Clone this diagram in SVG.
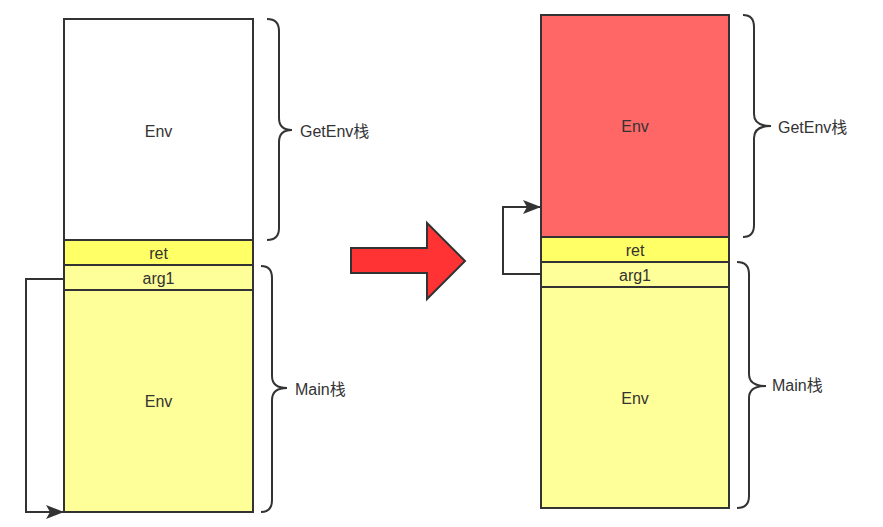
<svg xmlns="http://www.w3.org/2000/svg" width="883" height="527" viewBox="0 0 883 527">
<defs>
<style>
.box{stroke:#333333;stroke-width:2}
.white{fill:#FFFFFF}
.red{fill:#FF6666}
.ret{fill:#FFFF66}
.yel{fill:#FFFF99}
.brace{fill:none;stroke:#333333;stroke-width:2}
.conn{fill:none;stroke:#333333;stroke-width:2}
text{font-family:"Liberation Sans","Noto Sans CJK SC",sans-serif;font-size:16px;fill:#333333}
.c{text-anchor:middle;dominant-baseline:central}
.l{dominant-baseline:central}
</style>
<marker id="arr" viewBox="0 0 18 14" refX="17" refY="7" markerWidth="18" markerHeight="14" markerUnits="userSpaceOnUse" orient="auto">
<path d="M0,0 L18,7 L0,14 L4,7 Z" fill="#333333"/>
</marker>
</defs>
<rect width="883" height="527" fill="#FFFFFF"/>

<g id="left-env-top"><rect class="box white" x="64" y="19" width="189" height="221"/><text class="c" x="158.5" y="131">Env</text></g>
<g id="left-ret"><rect class="box ret" x="64" y="240" width="189" height="25"/><text class="c" x="158.5" y="253">ret</text></g>
<g id="left-arg1"><rect class="box yel" x="64" y="265" width="189" height="25"/><text class="c" x="158.5" y="278">arg1</text></g>
<g id="left-env-main"><rect class="box yel" x="64" y="290" width="189" height="222"/><text class="c" x="158.5" y="401">Env</text></g>

<g id="left-brace-getenv"><path class="brace" d="M267,19 Q279,19 279,31 L279,118 Q279,130 292,130 Q279,130 279,142 L279,228 Q279,240 267,240"/><text class="l" x="300" y="131">GetEnv栈</text></g>
<g id="left-brace-main"><path class="brace" d="M261,266 Q272,266 272,278 L272,376 Q272,388 287,388 Q272,388 272,400 L272,500 Q272,512 261,512"/><text class="l" x="295" y="389">Main栈</text></g>

<g id="big-arrow"><path d="M351,248 L427,248 L427,223 L465,261 L427,299 L427,273 L351,273 Z" fill="#FF3333" stroke="#333333" stroke-width="2" stroke-linejoin="miter"/></g>

<g id="right-env-top"><rect class="box red" x="541" y="15" width="188" height="222"/><text class="c" x="635" y="126">Env</text></g>
<g id="right-ret"><rect class="box ret" x="541" y="237" width="188" height="25"/><text class="c" x="635" y="250">ret</text></g>
<g id="right-arg1"><rect class="box yel" x="541" y="262" width="188" height="25"/><text class="c" x="635" y="275">arg1</text></g>
<g id="right-env-main"><rect class="box yel" x="541" y="287" width="188" height="221"/><text class="c" x="635" y="398">Env</text></g>

<g id="right-brace-getenv"><path class="brace" d="M743,15 Q754,15 754,27 L754,114 Q754,126 771,126 Q754,126 754,138 L754,225 Q754,237 743,237"/><text class="l" x="778" y="127">GetEnv栈</text></g>
<g id="right-brace-main"><path class="brace" d="M737,262 Q749,262 749,274 L749,374 Q749,386 766,386 Q749,386 749,398 L749,496 Q749,508 737,508"/><text class="l" x="772" y="385">Main栈</text></g>

<g id="connectors">
<path class="conn" d="M64,279 L26,279 L26,512 L63,512" marker-end="url(#arr)"/>
<path class="conn" d="M541,274 L503,274 L503,207 L540,207" marker-end="url(#arr)"/>
</g>
</svg>
